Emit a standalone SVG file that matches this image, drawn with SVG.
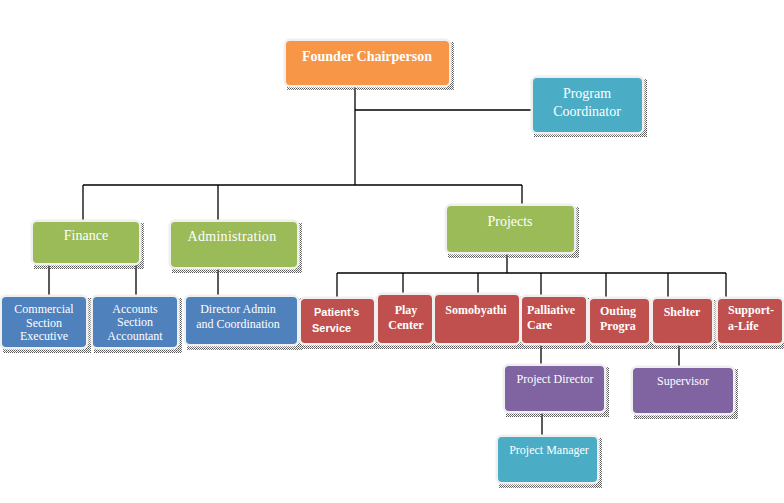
<svg xmlns="http://www.w3.org/2000/svg" width="784" height="503" viewBox="0 0 784 503">
<defs>
<pattern id="dots" width="2" height="2" patternUnits="userSpaceOnUse">
<rect x="0" y="0" width="1" height="1" fill="#555"/>
<rect x="1" y="1" width="1" height="1" fill="#777"/>
</pattern>
</defs>
<style>
.sh{fill:url(#dots)}
.bx{stroke:#efefef;stroke-width:5;paint-order:stroke}
.or{fill:#F79646}.tl{fill:#4BACC6}.gr{fill:#9BBB59}.bl{fill:#4F81BD}.rd{fill:#C0504D}.pu{fill:#8064A2}
text{font-family:"Liberation Serif","Times New Roman",serif;fill:#fff;font-size:12px}
.t14{font-size:14px}
.b{font-weight:bold}
.c{text-anchor:middle}
.sans{font-family:"Liberation Sans",Arial,sans-serif;font-size:11px;font-weight:bold}
#connectors line{stroke:#000;stroke-width:1.3}
</style>
<rect width="784" height="503" fill="#fff"/>
<g id="connectors">
<line x1="355" y1="86" x2="355" y2="185"/>
<line x1="355" y1="110" x2="531" y2="110"/>
<line x1="83" y1="185" x2="522" y2="185"/>
<line x1="83" y1="185" x2="83" y2="220"/>
<line x1="218" y1="185" x2="218" y2="220"/>
<line x1="522" y1="185" x2="522" y2="204"/>
<line x1="49" y1="264" x2="49" y2="295"/>
<line x1="136" y1="264" x2="136" y2="295"/>
<line x1="218" y1="268" x2="218" y2="295"/>
<line x1="507" y1="254" x2="507" y2="273"/>
<line x1="337" y1="273" x2="726" y2="273"/>
<line x1="337" y1="273" x2="337" y2="297"/>
<line x1="403" y1="273" x2="403" y2="293"/>
<line x1="478" y1="273" x2="478" y2="293"/>
<line x1="541" y1="273" x2="541" y2="297"/>
<line x1="606" y1="273" x2="606" y2="297"/>
<line x1="668" y1="273" x2="668" y2="297"/>
<line x1="726" y1="273" x2="726" y2="297"/>
<line x1="541" y1="345" x2="541" y2="364"/>
<line x1="679" y1="345" x2="679" y2="366"/>
<line x1="542" y1="413" x2="542" y2="435"/>
</g>
<g id="founder">
<rect class="sh" x="287" y="42" width="167" height="48"/>
<rect class="bx or" x="286" y="41" width="163" height="44" rx="4"/>
<text class="t14 b c" x="367" y="61">Founder Chairperson</text>
</g>
<g id="program-coordinator">
<rect class="sh" x="534" y="79" width="113" height="58"/>
<rect class="bx tl" x="533" y="78" width="109" height="54" rx="4"/>
<text class="t14 c" x="587" y="98">Program</text>
<text class="t14 c" x="587" y="116">Coordinator</text>
</g>
<g id="finance">
<rect class="sh" x="34" y="223" width="110" height="46"/>
<rect class="bx gr" x="33" y="222" width="106" height="41" rx="4"/>
<text class="t14 c" x="86" y="240">Finance</text>
</g>
<g id="administration">
<rect class="sh" x="172" y="223" width="130" height="50"/>
<rect class="bx gr" x="171" y="222" width="126" height="45" rx="4"/>
<text class="t14 c" x="232" y="241" letter-spacing="0.3">Administration</text>
</g>
<g id="projects">
<rect class="sh" x="448" y="207" width="131" height="51"/>
<rect class="bx gr" x="447" y="206" width="127" height="46" rx="4"/>
<text class="t14 c" x="510" y="226">Projects</text>
</g>
<g id="commercial">
<rect class="sh" x="3" y="298" width="88" height="55"/>
<rect class="bx bl" x="2" y="297" width="84" height="50" rx="4"/>
<text class="c" x="44" y="313">Commercial</text>
<text class="c" x="44" y="327">Section</text>
<text class="c" x="44" y="340">Executive</text>
</g>
<g id="accounts">
<rect class="sh" x="94" y="298" width="88" height="55"/>
<rect class="bx bl" x="93" y="297" width="84" height="50" rx="4"/>
<text class="c" x="135" y="313">Accounts</text>
<text class="c" x="135" y="326">Section</text>
<text class="c" x="135" y="340">Accountant</text>
</g>
<g id="director-admin">
<rect class="sh" x="187" y="298" width="115" height="52"/>
<rect class="bx bl" x="186" y="297" width="111" height="47" rx="4"/>
<text class="c" x="238" y="313">Director Admin</text>
<text class="c" x="238" y="328">and Coordination</text>
</g>
<g id="patients-service">
<rect class="sh" x="302" y="300" width="77" height="49"/>
<rect class="bx rd" x="301" y="299" width="73" height="44" rx="4"/>
<text class="sans" x="314" y="316">Patient’s</text>
<text class="sans" x="312" y="332">Service</text>
</g>
<g id="play-center">
<rect class="sh" x="379" y="296" width="58" height="53"/>
<rect class="bx rd" x="378" y="295" width="54" height="48" rx="4"/>
<text class="b c" x="406" y="314">Play</text>
<text class="b c" x="406" y="329">Center</text>
</g>
<g id="somobyathi">
<rect class="sh" x="436" y="296" width="88" height="53"/>
<rect class="bx rd" x="435" y="295" width="84" height="48" rx="4"/>
<text class="b c" x="476" y="314">Somobyathi</text>
</g>
<g id="palliative-care">
<rect class="sh" x="523" y="298" width="68" height="51"/>
<rect class="bx rd" x="522" y="297" width="64" height="46" rx="4"/>
<text class="b" x="527" y="314">Palliative</text>
<text class="b" x="527" y="329">Care</text>
</g>
<g id="outing">
<rect class="sh" x="591" y="300" width="63" height="49"/>
<rect class="bx rd" x="590" y="299" width="59" height="44" rx="4"/>
<text class="b" x="600" y="315">Outing</text>
<text class="b" x="600" y="330">Progra</text>
</g>
<g id="shelter">
<rect class="sh" x="654" y="300" width="63" height="49"/>
<rect class="bx rd" x="653" y="299" width="59" height="44" rx="4"/>
<text class="b c" x="682" y="316">Shelter</text>
</g>
<g id="support-a-life">
<rect class="sh" x="719" y="300" width="68" height="49"/>
<rect class="bx rd" x="718" y="299" width="64" height="44" rx="4"/>
<text class="b" x="728" y="314">Support-</text>
<text class="b" x="728" y="330">a-Life</text>
</g>
<g id="project-director">
<rect class="sh" x="506" y="367" width="103" height="50"/>
<rect class="bx pu" x="505" y="366" width="99" height="45" rx="4"/>
<text class="c" x="555" y="383">Project Director</text>
</g>
<g id="supervisor">
<rect class="sh" x="634" y="369" width="104" height="50"/>
<rect class="bx pu" x="633" y="368" width="100" height="45" rx="4"/>
<text class="c" x="683" y="385">Supervisor</text>
</g>
<g id="project-manager">
<rect class="sh" x="499" y="438" width="103" height="50"/>
<rect class="bx tl" x="498" y="437" width="99" height="45" rx="4"/>
<text class="c" x="549" y="454">Project Manager</text>
</g>
</svg>
